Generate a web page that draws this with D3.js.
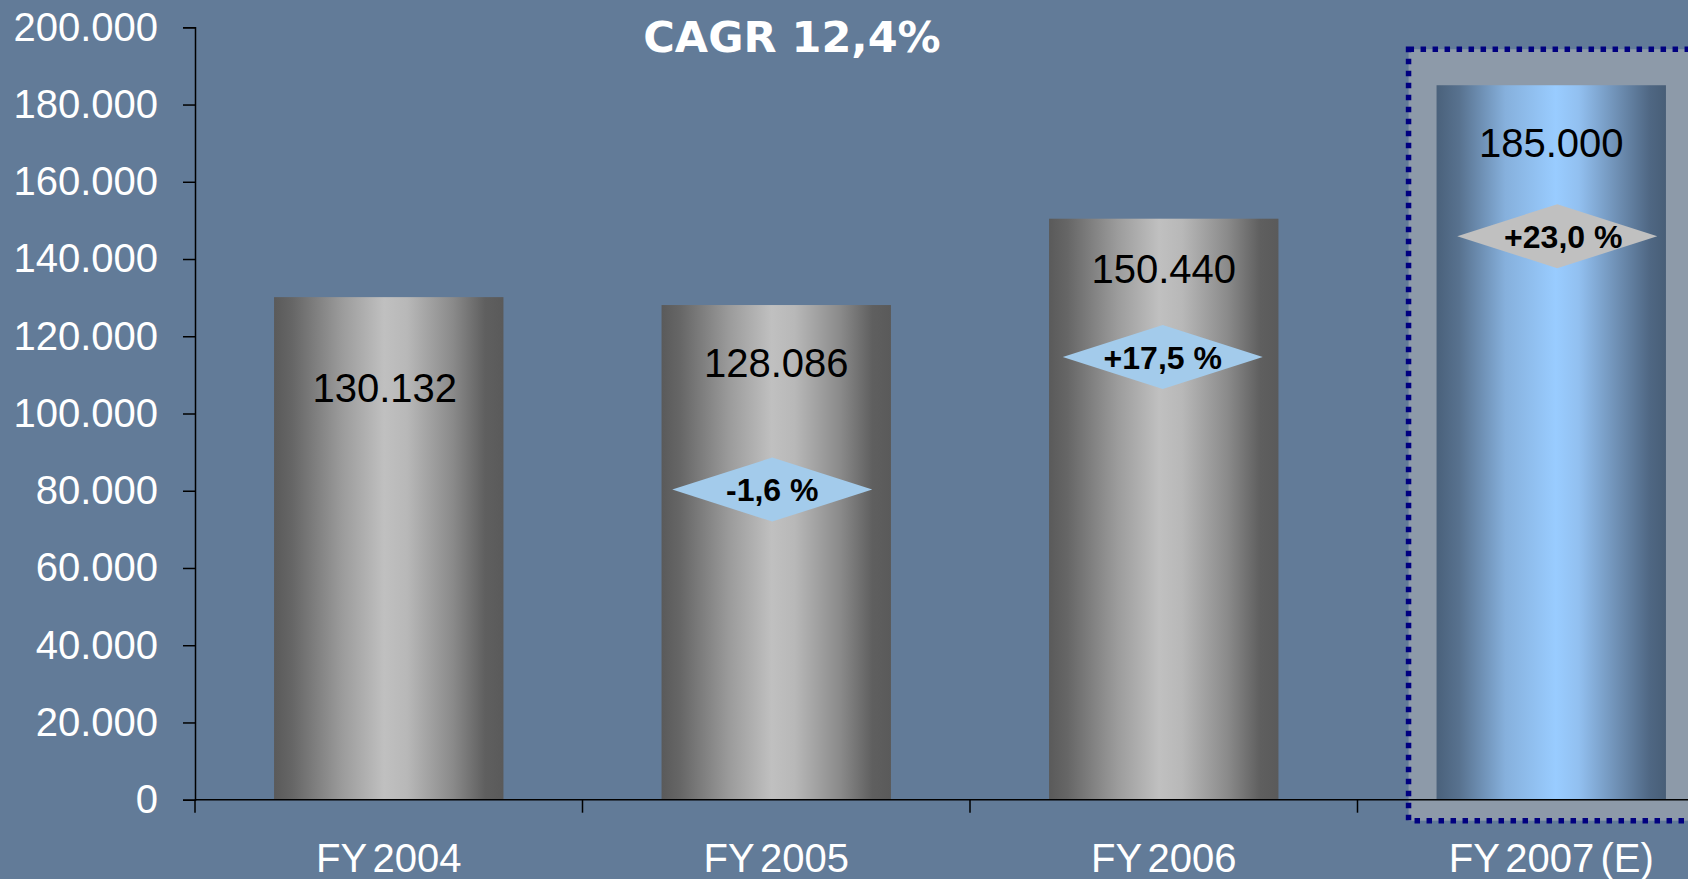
<!DOCTYPE html>
<html>
<head>
<meta charset="utf-8">
<script src="https://cdn.jsdelivr.net/npm/d3@7"></script>
<style>
  html, body { margin: 0; padding: 0; background: #627b98; overflow: hidden; }
  svg { display: block; font-family: "Liberation Sans", Arial, sans-serif; }
</style>
</head>
<body>
<svg id="chart" width="1688" height="879"></svg>
<script>
// data
const categories = ["FY 2004", "FY 2005", "FY 2006", "FY 2007 (E)"];
const values = [130132, 128086, 150440, 185000];
const valueLabels = ["130.132", "128.086", "150.440", "185.000"];
const growthCats = ["FY 2005", "FY 2006", "FY 2007 (E)"];
const growthLabels = ["-1,6 %", "+17,5 %", "+23,0 %"];
const yTicks = [0, 20000, 40000, 60000, 80000, 100000, 120000, 140000, 160000, 180000, 200000];
const titleText = "CAGR 12,4%";

// layout (hand placed in the original slide)
const labelDy = [105, 72, 64, 72];          // baseline below bar top
const labelDx = [-4, 0, 0, 0];
const badgeAt = [80300, 114600, 145900];    // diamond centre, in value units
const badgeDx = [-4, -1, 6];

const svg = d3.select("#chart");
const x0 = 195, yBase = 799.7, yTop = 27.3;

const y = d3.scaleLinear()
    .domain([0, 200000])
    .range([yBase, yTop]);

const x = d3.scaleBand()
    .domain(categories)
    .range([x0, x0 + 4 * 387.5])
    .paddingInner(0.408)
    .paddingOuter(0.204);

const fmt = d => d === 0 ? "0" : d3.format(",")(d).replace(/,/g, ".");

// gradients
const defs = svg.append("defs");
const grey = defs.append("linearGradient").attr("id", "greyBar");
[[0, "#5a5a5a"], [0.08, "#666"], [0.3, "#9c9c9c"], [0.48, "#c0c0c0"], [0.58, "#b8b8b8"], [0.78, "#8a8a8a"], [0.92, "#5f5f5f"], [1, "#5a5a5a"]]
    .forEach(s => grey.append("stop").attr("offset", s[0]).attr("stop-color", s[1]));
const blue = defs.append("linearGradient").attr("id", "blueBar");
[[0, "#4a617b"], [0.1, "#58728f"], [0.3, "#86b0dc"], [0.52, "#99ccff"], [0.62, "#92c0f0"], [0.8, "#6c8cb0"], [0.93, "#4f6783"], [1, "#485e77"]]
    .forEach(s => blue.append("stop").attr("offset", s[0]).attr("stop-color", s[1]));

// highlight box round the estimate
const last = categories[categories.length - 1];
svg.append("rect")
    .attr("x", x(last) - 28)
    .attr("y", y(values[values.length - 1]) - 36)
    .attr("width", 400)
    .attr("height", (yBase + 21) - (y(values[values.length - 1]) - 36))
    .attr("fill", "#8d9aa9")
    .attr("stroke", "#000080")
    .attr("stroke-width", 5.5)
    .attr("stroke-dasharray", "5.5,6.5");

// bars
svg.selectAll(".bar")
    .data(values)
    .enter().append("rect")
    .attr("class", "bar")
    .attr("x", (d, i) => x(categories[i]))
    .attr("y", d => y(d))
    .attr("width", x.bandwidth())
    .attr("height", d => yBase - y(d))
    .attr("fill", (d, i) => i === values.length - 1 ? "url(#blueBar)" : "url(#greyBar)");

// value labels
svg.selectAll(".vlabel")
    .data(values)
    .enter().append("text")
    .attr("class", "vlabel")
    .attr("x", (d, i) => x(categories[i]) + x.bandwidth() / 2 + labelDx[i])
    .attr("y", (d, i) => y(d) + labelDy[i])
    .attr("text-anchor", "middle")
    .attr("font-size", 40)
    .attr("fill", "#000")
    .text((d, i) => valueLabels[i]);

// growth diamonds
const badge = svg.selectAll(".badge")
    .data(growthLabels)
    .enter().append("g")
    .attr("class", "badge")
    .attr("transform", (d, i) => "translate(" + (x(growthCats[i]) + x.bandwidth() / 2 + badgeDx[i]) + "," + y(badgeAt[i]) + ")");

badge.append("path")
    .attr("d", "M-100,0L0,-32L100,0L0,32Z")
    .attr("fill", (d, i) => i === growthLabels.length - 1 ? "#c0c0c0" : "#a3cbeb");

badge.append("text")
    .attr("text-anchor", "middle")
    .attr("dx", (d, i) => i === growthLabels.length - 1 ? 6 : 0)
    .attr("dy", "0.36em")
    .attr("font-size", 32)
    .attr("font-weight", "bold")
    .attr("fill", "#000")
    .text(d => d);

// y axis
const yAxis = svg.append("g")
    .attr("transform", "translate(" + x0 + ",0)")
    .call(d3.axisLeft(y).tickValues(yTicks).tickFormat(fmt).tickSize(12).tickPadding(25));
yAxis.attr("font-family", null).attr("font-size", null);
yAxis.select(".domain").attr("stroke", "#000").attr("stroke-width", 1.5);
yAxis.selectAll(".tick line").attr("stroke", "#000").attr("stroke-width", 1.5);
yAxis.selectAll("text").attr("font-size", 40).attr("fill", "#fff");

// x axis
const xAxis = svg.append("g")
    .attr("transform", "translate(0," + yBase + ")")
    .call(d3.axisBottom(x).tickSize(0).tickPadding(43.6));
xAxis.attr("font-family", null).attr("font-size", null);
xAxis.select(".domain").remove();
xAxis.selectAll("text").attr("font-size", 40).attr("fill", "#fff")
    .attr("word-spacing", -5);

svg.append("line")
    .attr("x1", x0).attr("x2", 1688)
    .attr("y1", yBase).attr("y2", yBase)
    .attr("stroke", "#000").attr("stroke-width", 1.5);

// boundary ticks between categories
svg.selectAll(".btick")
    .data(d3.range(categories.length))
    .enter().append("line")
    .attr("class", "btick")
    .attr("x1", i => x.range()[0] + i * x.step())
    .attr("x2", i => x.range()[0] + i * x.step())
    .attr("y1", yBase)
    .attr("y2", yBase + 13)
    .attr("stroke", "#000")
    .attr("stroke-width", 1.5);

// title
svg.append("text")
    .attr("x", 792)
    .attr("y", 51.7)
    .attr("text-anchor", "middle")
    .style("font-family", "'DejaVu Sans', Verdana, sans-serif")
    .attr("font-weight", "bold")
    .attr("font-size", 43)
    .attr("fill", "#fff")
    .text(titleText);
</script>
</body>
</html>
